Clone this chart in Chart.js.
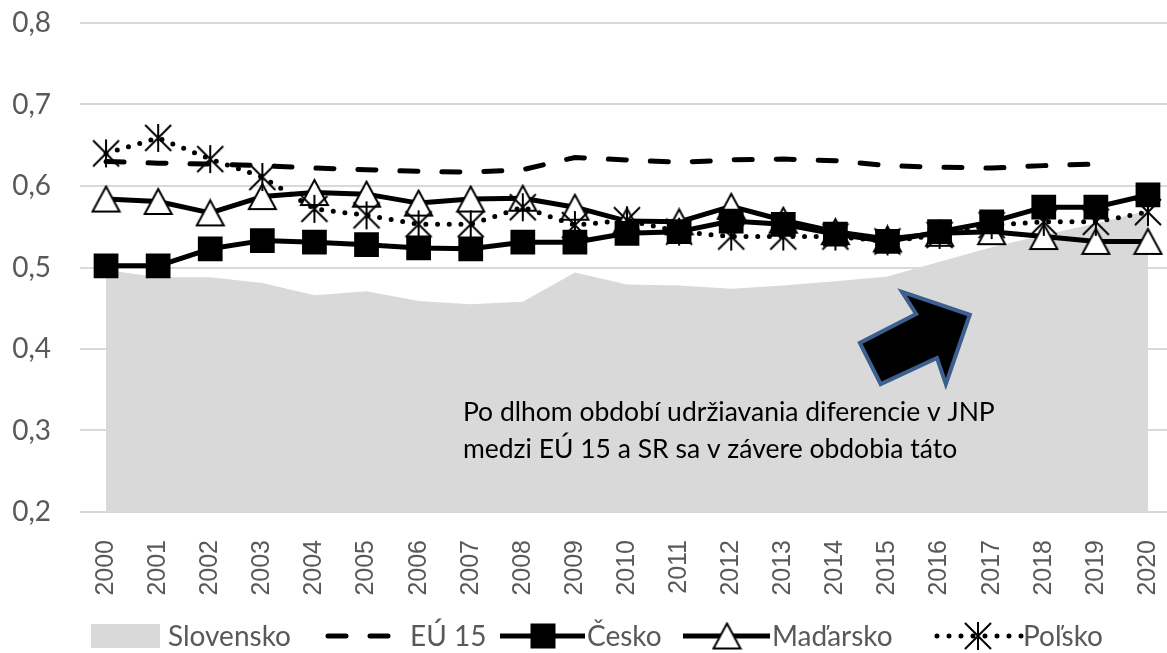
<!DOCTYPE html>
<html>
<head>
<meta charset="utf-8">
<script src="https://cdn.jsdelivr.net/npm/chart.js@4.4.0/dist/chart.umd.min.js"></script>
<style>
  html, body { margin: 0; padding: 0; background: #fff; overflow: hidden; }
  #wrap { width: 1174px; height: 653px; }
</style>
</head>
<body>
<div id="wrap"><canvas id="myChart" width="1174" height="653"></canvas></div>
<script>
// data
const years = ["2000","2001","2002","2003","2004","2005","2006","2007","2008","2009","2010",
               "2011","2012","2013","2014","2015","2016","2017","2018","2019","2020"];
const slovensko = [0.497,0.488,0.488,0.481,0.466,0.471,0.459,0.455,0.458,0.494,0.479,
                   0.478,0.474,0.478,0.483,0.489,0.507,0.525,0.540,0.554,0.570];
const eu15 = [0.630,0.628,0.627,0.625,0.622,0.620,0.618,0.617,0.620,0.635,0.632,
              0.629,0.632,0.633,0.631,0.625,0.623,0.622,0.625,0.627,null];
const cesko = [0.502,0.502,0.523,0.533,0.531,0.528,0.524,0.523,0.531,0.531,0.542,
               0.544,0.557,0.553,0.541,0.532,0.544,0.556,0.574,0.574,0.589];
const madarsko = [0.584,0.581,0.567,0.587,0.592,0.590,0.579,0.584,0.585,0.574,0.557,
                  0.556,0.575,0.558,0.544,0.535,0.542,0.544,0.538,0.532,0.532];
const polsko = [0.640,0.659,0.633,0.611,0.572,0.564,0.553,0.553,0.574,0.552,0.558,
                0.544,0.538,0.538,0.538,0.532,0.540,0.552,0.556,0.556,0.568];
const seriesNames = ["Slovensko","EÚ 15","Česko","Maďarsko","Poľsko"];
const noteLines = ["Po dlhom období udržiavania diferencie v JNP",
                   "medzi EÚ 15 a SR sa v závere obdobia táto"];

// marker images (excel style)
function triangleImg() {
  const c = document.createElement("canvas");
  c.width = 31; c.height = 29;
  const g = c.getContext("2d");
  g.beginPath();
  g.moveTo(15.5, 2); g.lineTo(29, 27); g.lineTo(2, 27); g.closePath();
  g.fillStyle = "#fff"; g.fill();
  g.lineWidth = 2; g.strokeStyle = "#000"; g.lineJoin = "miter"; g.stroke();
  return c;
}
function starImg() {
  const c = document.createElement("canvas");
  c.width = 30; c.height = 30;
  const g = c.getContext("2d");
  g.strokeStyle = "#000"; g.lineWidth = 2;
  g.beginPath();
  g.moveTo(2, 2); g.lineTo(28, 28);
  g.moveTo(28, 2); g.lineTo(2, 28);
  g.moveTo(15, 1); g.lineTo(15, 29);
  g.stroke();
  return c;
}
const tri = triangleImg();
const star = starImg();

// arrow + note (in category index / value units)
const arrowPts = [[15.28,0.470],[16.58,0.442],[16.12,0.357],[15.95,0.389],
                  [14.87,0.357],[14.47,0.4075],[15.55,0.443]];
const notePos = [6.85, 0.3121, 0.2668];

const notePlugin = {
  id: "note",
  afterDatasetsDraw(chart) {
    const ctx = chart.ctx, xs = chart.scales.x, ys = chart.scales.y;
    ctx.save();
    ctx.beginPath();
    arrowPts.forEach((p, i) => {
      const px = xs.getPixelForValue(p[0]), py = ys.getPixelForValue(p[1]);
      if (i === 0) ctx.moveTo(px, py); else ctx.lineTo(px, py);
    });
    ctx.closePath();
    ctx.fillStyle = "#000";
    ctx.fill();
    ctx.lineWidth = 4;
    ctx.strokeStyle = "#3b5f8e";
    ctx.stroke();
    ctx.fillStyle = "#000";
    ctx.font = "26.5px Lato";
    ctx.textBaseline = "alphabetic";
    const tx = xs.getPixelForValue(notePos[0]);
    ctx.fillText(noteLines[0], tx, ys.getPixelForValue(notePos[1]));
    ctx.fillText(noteLines[1], tx, ys.getPixelForValue(notePos[2]));
    ctx.restore();
  }
};

// legend drawn by hand, line sample with marker in the middle
const legendPlugin = {
  id: "myLegend",
  afterDraw(chart) {
    const ctx = chart.ctx;
    const y = 636;
    ctx.save();
    ctx.font = "28px Lato";
    ctx.fillStyle = "#595959";
    ctx.textBaseline = "middle";

    // Slovensko
    ctx.fillStyle = "#d9d9d9";
    ctx.fillRect(91, y - 12, 69, 24);
    ctx.fillStyle = "#595959";
    ctx.fillText(seriesNames[0], 168, y + 1);

    // EU 15
    ctx.strokeStyle = "#000";
    ctx.lineWidth = 5;
    ctx.lineCap = "round";
    ctx.setLineDash([18, 24]);
    ctx.beginPath(); ctx.moveTo(328, y); ctx.lineTo(405, y); ctx.stroke();
    ctx.fillText(seriesNames[1], 410, y + 1);

    // Cesko
    ctx.setLineDash([]);
    ctx.lineCap = "butt";
    ctx.beginPath(); ctx.moveTo(500, y); ctx.lineTo(585, y); ctx.stroke();
    ctx.fillStyle = "#000";
    ctx.fillRect(543 - 12.5, y - 12.5, 25, 25);
    ctx.fillStyle = "#595959";
    ctx.fillText(seriesNames[2], 587, y + 1);

    // Madarsko
    ctx.beginPath(); ctx.moveTo(683, y); ctx.lineTo(770, y); ctx.stroke();
    ctx.drawImage(tri, 727 - tri.width / 2, y - tri.height / 2);
    ctx.fillText(seriesNames[3], 772, y + 1);

    // Polsko
    ctx.lineCap = "round";
    ctx.setLineDash([0, 12]);
    ctx.beginPath(); ctx.moveTo(937, y); ctx.lineTo(1022, y); ctx.stroke();
    ctx.setLineDash([]);
    ctx.drawImage(star, 978 - star.width / 2, y - star.height / 2);
    ctx.fillText(seriesNames[4], 1023, y + 1);
    ctx.restore();
  }
};

const ctx = document.getElementById("myChart").getContext("2d");
new Chart(ctx, {
  type: "line",
  data: {
    labels: years,
    datasets: [
      {
        label: seriesNames[0],
        data: slovensko,
        backgroundColor: "#d9d9d9",
        borderWidth: 0,
        fill: "start",
        pointRadius: 0,
        order: 5,
      },
      {
        label: seriesNames[1],
        data: eu15,
        borderColor: "#000",
        borderWidth: 5,
        borderDash: [18, 24],
        borderCapStyle: "round",
        pointRadius: 0,
        fill: false,
        order: 4,
      },
      {
        label: seriesNames[2],
        data: cesko,
        borderColor: "#000",
        borderWidth: 5,
        borderJoinStyle: "round",
        pointStyle: "rect",
        pointRadius: 17.5,
        pointBorderWidth: 0,
        pointBackgroundColor: "#000",
        pointBorderColor: "#000",
        fill: false,
        order: 1,
      },
      {
        label: seriesNames[3],
        data: madarsko,
        borderColor: "#000",
        borderWidth: 5,
        borderJoinStyle: "round",
        pointStyle: tri,
        pointRadius: 15,
        fill: false,
        order: 3,
      },
      {
        label: seriesNames[4],
        data: polsko,
        borderColor: "#000",
        borderWidth: 5,
        borderDash: [0, 11.7],
        borderCapStyle: "round",
        pointStyle: star,
        pointRadius: 15,
        fill: false,
        order: 2,
      },
    ],
  },
  options: {
    responsive: false,
    animation: false,
    devicePixelRatio: 1,
    layout: { autoPadding: false, padding: { top: 23, left: 0, right: 0, bottom: 53 } },
    plugins: {
      legend: { display: false },
      tooltip: { enabled: false },
    },
    scales: {
      x: {
        offset: true,
        grid: { display: false },
        border: { display: false },
        ticks: {
          color: "#595959",
          font: { family: "Liberation Sans", size: 25 },
          minRotation: 90,
          maxRotation: 90,
          autoSkip: false,
          padding: 20,
        },
        afterFit: (s) => { s.height = 88; s.paddingLeft = 0; s.paddingRight = 0; },
      },
      y: {
        min: 0.2,
        max: 0.8,
        grid: { color: "#d9d9d9", lineWidth: 2, drawTicks: false },
        border: { display: false },
        ticks: {
          stepSize: 0.1,
          color: "#595959",
          font: { family: "Lato", size: 28 },
          padding: 29,
          callback: (v) => v.toFixed(1).replace(".", ","),
        },
        afterFit: (s) => { s.width = 80; s.paddingTop = 0; s.paddingBottom = 0; },
      },
    },
  },
  plugins: [notePlugin, legendPlugin],
});
</script>
</body>
</html>
